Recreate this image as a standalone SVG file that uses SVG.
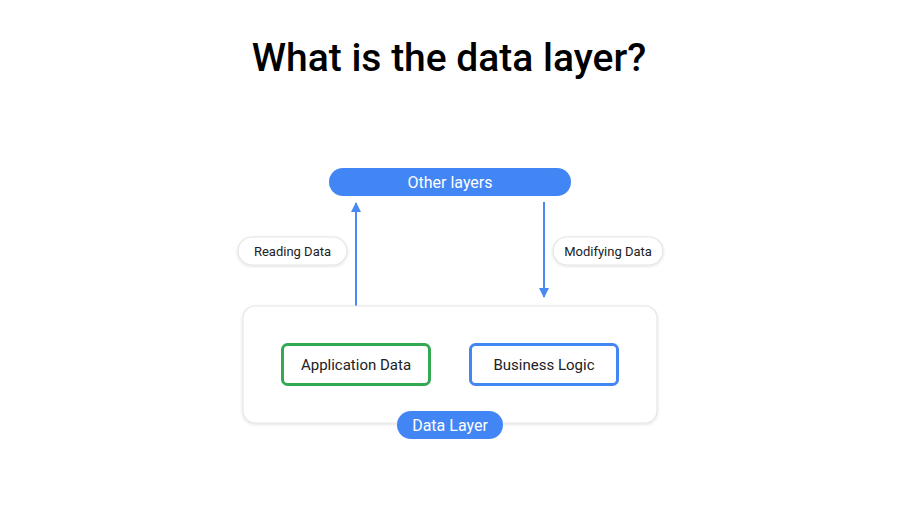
<svg xmlns="http://www.w3.org/2000/svg" width="900" height="506" viewBox="0 0 900 506">
<defs>
<style>
.pill{fill:#4285f4}
.pt{font-family:Roboto,"Open Sans",sans-serif;font-size:16px;fill:#ffffff;text-anchor:middle;dominant-baseline:central}
.lab{fill:#ffffff;stroke:#e4e4e4;stroke-width:1.2}
.lt{font-family:Roboto,"Open Sans",sans-serif;font-size:13px;fill:#202124;text-anchor:middle;dominant-baseline:central}
.bt{font-family:Roboto,"Open Sans",sans-serif;font-size:15px;fill:#202124;text-anchor:middle;dominant-baseline:central}
.conn{stroke:#4a8af4;stroke-width:2;fill:none}
</style>
<marker id="ah" viewBox="0 0 10 10" refX="9" refY="5" markerWidth="5" markerHeight="5" orient="auto" markerUnits="strokeWidth">
<path d="M0,0 L10,5 L0,10 z" fill="#4a8af4"/>
</marker>
<filter id="sh" x="-5%" y="-5%" width="110%" height="115%">
<feDropShadow dx="0" dy="1" stdDeviation="1.5" flood-color="#000" flood-opacity="0.12"/>
</filter>
</defs>
<rect width="900" height="506" fill="#ffffff"/>
<text x="449" y="71" font-family="Roboto,'Open Sans',sans-serif" font-size="39" font-weight="500" fill="#000000" text-anchor="middle">What is the data layer?</text>

<g id="connectors">
<line class="conn" x1="356" y1="306" x2="356" y2="203" marker-end="url(#ah)"/>
<line class="conn" x1="544" y1="202" x2="544" y2="297" marker-end="url(#ah)"/>
</g>

<g id="other-layers">
<rect class="pill" x="329" y="168" width="242" height="28" rx="14"/>
<text class="pt" x="450" y="182.5">Other layers</text>
</g>

<g id="reading-data">
<rect class="lab" x="238" y="237" width="109" height="28" rx="14" filter="url(#sh)"/>
<text class="lt" x="292.5" y="251">Reading Data</text>
</g>

<g id="modifying-data">
<rect class="lab" x="553" y="237" width="110" height="28" rx="14" filter="url(#sh)"/>
<text class="lt" x="608" y="251">Modifying Data</text>
</g>

<g id="data-layer">
<rect x="243" y="306" width="414" height="117" rx="12" fill="#ffffff" stroke="#e6e6e6" stroke-width="1.2" filter="url(#sh)"/>
<rect class="pill" x="397" y="411" width="106" height="28" rx="14"/>
<text class="pt" x="450" y="425">Data Layer</text>
</g>

<g id="application-data">
<rect x="282.5" y="344.5" width="147" height="40" rx="5" fill="#ffffff" stroke="#34a853" stroke-width="3"/>
<text class="bt" x="356" y="364.5">Application Data</text>
</g>

<g id="business-logic">
<rect x="470.5" y="344.5" width="147" height="40" rx="5" fill="#ffffff" stroke="#4285f4" stroke-width="3"/>
<text class="bt" x="544" y="364.5">Business Logic</text>
</g>
</svg>
